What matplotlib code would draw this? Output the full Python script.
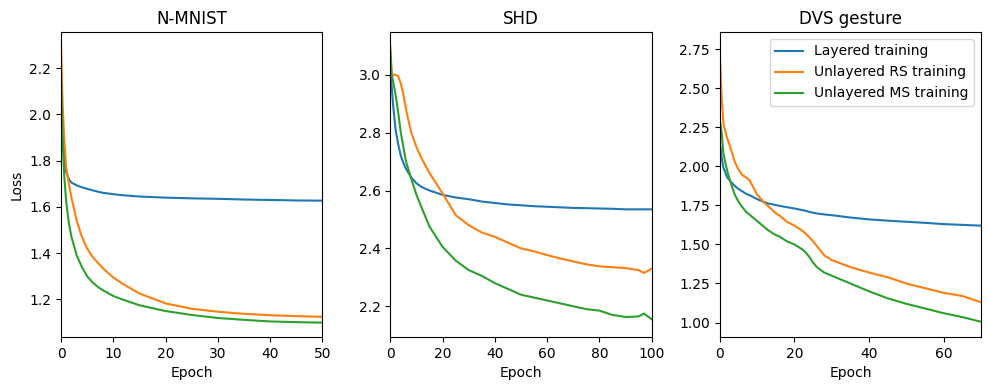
import matplotlib
matplotlib.use("Agg")
import matplotlib.pyplot as plt

# N-MNIST (epochs 0-50)
nmnist_epoch = [0, 0.3, 0.6, 1, 1.5, 2, 3, 4, 5, 6, 7, 8, 10, 12, 15, 20, 25, 30, 35, 40, 45, 50]
nmnist_layered = [2.18, 1.92, 1.80, 1.75, 1.72, 1.705, 1.693, 1.685, 1.678, 1.672, 1.666, 1.661,
                  1.655, 1.65, 1.645, 1.64, 1.637, 1.635, 1.632, 1.63, 1.628, 1.627]
nmnist_rs = [2.30, 2.05, 1.90, 1.77, 1.70, 1.64, 1.54, 1.47, 1.42, 1.385, 1.36, 1.335,
             1.295, 1.265, 1.226, 1.183, 1.16, 1.147, 1.138, 1.132, 1.128, 1.125]
nmnist_ms = [2.17, 1.90, 1.74, 1.62, 1.53, 1.47, 1.39, 1.34, 1.30, 1.275, 1.255, 1.24,
             1.215, 1.198, 1.175, 1.15, 1.133, 1.12, 1.112, 1.105, 1.102, 1.10]

# SHD (epochs 0-100)
shd_epoch = [0, 0.5, 1, 2, 3, 4, 5, 6, 8, 10, 12, 15, 20, 25, 30, 35, 40, 45, 50, 55, 60,
             65, 70, 75, 80, 85, 90, 95, 97, 100]
shd_layered = [3.02, 2.96, 2.90, 2.81, 2.76, 2.72, 2.695, 2.675, 2.645, 2.625, 2.612, 2.60,
               2.585, 2.576, 2.57, 2.562, 2.557, 2.552, 2.549, 2.546, 2.544, 2.542, 2.54,
               2.539, 2.538, 2.537, 2.535, 2.535, 2.535, 2.535]
shd_rs = [3.10, 3.00, 3.00, 3.00, 2.995, 2.97, 2.93, 2.88, 2.80, 2.75, 2.71, 2.66, 2.59,
          2.515, 2.48, 2.455, 2.44, 2.42, 2.40, 2.39, 2.377, 2.365, 2.355, 2.345, 2.338,
          2.335, 2.332, 2.325, 2.315, 2.33]
shd_ms = [3.08, 3.00, 2.98, 2.93, 2.87, 2.80, 2.75, 2.70, 2.64, 2.585, 2.54, 2.475, 2.405,
          2.358, 2.325, 2.305, 2.28, 2.26, 2.24, 2.23, 2.22, 2.21, 2.20, 2.19, 2.185, 2.17,
          2.163, 2.165, 2.175, 2.155]

# DVS gesture (epochs 0-70)
dvs_epoch = [0, 0.5, 1, 2, 3, 4, 5, 6, 7, 8, 10, 12, 13, 15, 16, 18, 20, 22, 23, 24, 25,
             26, 28, 30, 35, 40, 45, 50, 55, 60, 65, 70]
dvs_layered = [2.17, 2.06, 1.99, 1.93, 1.90, 1.875, 1.855, 1.84, 1.825, 1.815, 1.79, 1.77,
               1.762, 1.752, 1.747, 1.738, 1.73, 1.72, 1.715, 1.708, 1.703, 1.698, 1.692,
               1.687, 1.672, 1.66, 1.652, 1.645, 1.638, 1.63, 1.625, 1.62]
dvs_rs = [2.74, 2.45, 2.27, 2.18, 2.11, 2.03, 1.98, 1.945, 1.93, 1.91, 1.82, 1.765, 1.745,
          1.70, 1.685, 1.645, 1.62, 1.59, 1.57, 1.545, 1.52, 1.49, 1.43, 1.40, 1.355,
          1.32, 1.29, 1.25, 1.22, 1.19, 1.17, 1.13]
dvs_ms = [2.30, 2.22, 2.08, 1.97, 1.89, 1.82, 1.775, 1.74, 1.71, 1.69, 1.65, 1.61, 1.59,
          1.56, 1.55, 1.52, 1.50, 1.47, 1.45, 1.42, 1.385, 1.355, 1.32, 1.30, 1.25, 1.20,
          1.155, 1.12, 1.09, 1.06, 1.035, 1.005]

labels = ["Layered training", "Unlayered RS training", "Unlayered MS training"]

panels = [
    ("N-MNIST", nmnist_epoch, [nmnist_layered, nmnist_rs, nmnist_ms], (0, 50), (1.038, 2.356)),
    ("SHD", shd_epoch, [shd_layered, shd_rs, shd_ms], (0, 100), (2.094, 3.148)),
    ("DVS gesture", dvs_epoch, [dvs_layered, dvs_rs, dvs_ms], (0, 70), (0.908, 2.859)),
]

fig, axes = plt.subplots(1, 3, figsize=(9.89, 3.9), dpi=100)
for i, (ax, (title, epochs, series, xlim, ylim)) in enumerate(zip(axes, panels)):
    for ys, label in zip(series, labels):
        ax.plot(epochs, ys, label=label)
    ax.set_title(title)
    ax.set_xlabel("Epoch")
    ax.set_xlim(*xlim)
    ax.set_ylim(*ylim)
    if i == 0:
        ax.set_ylabel("Loss")

axes[2].legend(loc="upper right")

plt.subplots_adjust(left=0.0617, right=0.992, top=0.918, bottom=0.136, wspace=0.26)
plt.savefig("out.png", dpi=100)
plt.close()
